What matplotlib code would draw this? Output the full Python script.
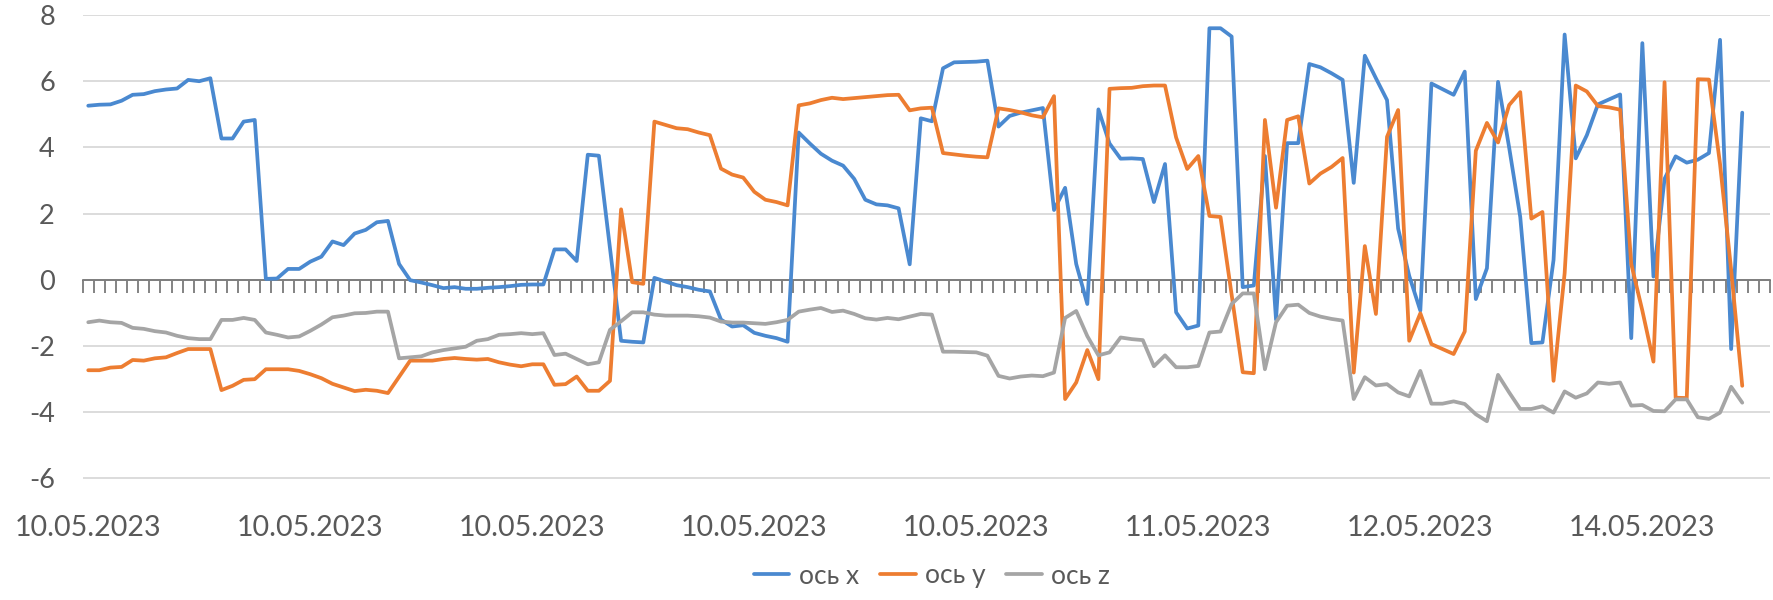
import numpy as np
import matplotlib
matplotlib.use("Agg")
import matplotlib.pyplot as plt
from matplotlib.ticker import FixedLocator, FuncFormatter
import matplotlib.transforms as mtransforms

plt.rcParams['font.family'] = ['Lato', 'DejaVu Sans']
plt.rcParams['axes.unicode_minus'] = False

# ---- data ----
n_categories = 152
label_positions = [0, 20, 40, 60, 80, 100, 120, 140]
date_labels = ["10.05.2023", "10.05.2023", "10.05.2023", "10.05.2023",
               "10.05.2023", "11.05.2023", "12.05.2023", "14.05.2023"]
series_names = ["ось x", "ось y", "ось z"]

axis_x = [5.26, 5.29, 5.30, 5.41, 5.59, 5.61, 5.70, 5.75, 5.78, 6.04,
          6.00, 6.09, 4.27, 4.27, 4.78, 4.83, 0.03, 0.04, 0.33, 0.33,
          0.55, 0.70, 1.16, 1.05, 1.40, 1.51, 1.74, 1.78, 0.48, -0.01,
          -0.08, -0.16, -0.25, -0.22, -0.27, -0.27, -0.24, -0.22, -0.19, -0.15,
          -0.14, -0.14, 0.92, 0.92, 0.57, 3.78, 3.75, 0.96, -1.84, -1.87,
          -1.89, 0.06, -0.05, -0.16, -0.22, -0.30, -0.35, -1.20, -1.41, -1.37,
          -1.60, -1.69, -1.76, -1.87, 4.45, 4.12, 3.81, 3.60, 3.45, 3.05,
          2.42, 2.28, 2.25, 2.16, 0.47, 4.88, 4.79, 6.39, 6.57, 6.58,
          6.59, 6.62, 4.63, 4.95, 5.05, 5.12, 5.19, 2.11, 2.78, 0.48,
          -0.73, 5.15, 4.12, 3.66, 3.67, 3.65, 2.35, 3.50, -0.98, -1.47,
          -1.38, 7.60, 7.60, 7.35, -0.22, -0.17, 3.74, -1.20, 4.13, 4.13,
          6.52, 6.42, 6.24, 6.04, 2.93, 6.77, 6.09, 5.43, 1.55, 0.12,
          -0.93, 5.93, 5.76, 5.59, 6.29, -0.58, 0.35, 5.98, 4.00, 1.90,
          -1.91, -1.89, 0.60, 7.41, 3.67, 4.37, 5.30, 5.45, 5.60, -1.76,
          7.15, 0.10, 3.05, 3.73, 3.54, 3.63, 3.83, 7.25, -2.09, 5.05]

axis_y = [-2.73, -2.73, -2.65, -2.63, -2.42, -2.44, -2.37, -2.34, -2.21, -2.09,
          -2.09, -2.09, -3.33, -3.20, -3.02, -3.00, -2.70, -2.70, -2.70, -2.75,
          -2.85, -2.97, -3.14, -3.25, -3.36, -3.32, -3.35, -3.42, -2.93, -2.44,
          -2.44, -2.44, -2.39, -2.36, -2.39, -2.41, -2.39, -2.49, -2.56, -2.61,
          -2.55, -2.55, -3.17, -3.15, -2.92, -3.35, -3.35, -3.05, 2.13, -0.07,
          -0.12, 4.78, 4.68, 4.58, 4.55, 4.45, 4.37, 3.36, 3.18, 3.09,
          2.66, 2.42, 2.35, 2.25, 5.27, 5.33, 5.43, 5.50, 5.46, 5.49,
          5.52, 5.55, 5.58, 5.59, 5.12, 5.18, 5.20, 3.83, 3.79, 3.75,
          3.72, 3.70, 5.18, 5.13, 5.06, 4.97, 4.91, 5.55, -3.60, -3.10,
          -2.12, -3.00, 5.77, 5.79, 5.80, 5.85, 5.87, 5.87, 4.30, 3.35,
          3.74, 1.93, 1.90, -0.45, -2.79, -2.82, 4.83, 2.18, 4.83, 4.94,
          2.91, 3.21, 3.41, 3.68, -2.80, 1.02, -1.03, 4.32, 5.13, -1.84,
          -1.01, -1.94, -2.09, -2.24, -1.56, 3.90, 4.74, 4.15, 5.28, 5.67,
          1.85, 2.05, -3.05, 0.20, 5.87, 5.69, 5.25, 5.21, 5.14, 0.48,
          -0.93, -2.47, 5.97, -3.56, -3.57, 6.06, 6.05, 3.50, 0.30, -3.20]

axis_z = [-1.28, -1.23, -1.28, -1.30, -1.45, -1.48, -1.55, -1.59, -1.69, -1.76,
          -1.79, -1.79, -1.21, -1.21, -1.15, -1.21, -1.59, -1.66, -1.74, -1.71,
          -1.54, -1.35, -1.13, -1.08, -1.01, -1.00, -0.96, -0.96, -2.37, -2.34,
          -2.31, -2.19, -2.12, -2.07, -2.02, -1.84, -1.79, -1.66, -1.64, -1.61,
          -1.64, -1.61, -2.27, -2.23, -2.39, -2.55, -2.49, -1.51, -1.25, -0.98,
          -0.98, -1.05, -1.08, -1.08, -1.08, -1.10, -1.14, -1.26, -1.29, -1.29,
          -1.31, -1.33, -1.28, -1.21, -0.96, -0.90, -0.85, -0.97, -0.93, -1.03,
          -1.16, -1.20, -1.15, -1.19, -1.11, -1.03, -1.05, -2.17, -2.17, -2.18,
          -2.19, -2.29, -2.90, -2.98, -2.92, -2.89, -2.91, -2.80, -1.15, -0.94,
          -1.70, -2.28, -2.19, -1.74, -1.79, -1.82, -2.61, -2.28, -2.64, -2.64,
          -2.60, -1.59, -1.56, -0.73, -0.41, -0.41, -2.70, -1.28, -0.78, -0.75,
          -1.00, -1.11, -1.18, -1.23, -3.60, -2.94, -3.19, -3.15, -3.40, -3.52,
          -2.75, -3.74, -3.74, -3.67, -3.75, -4.06, -4.27, -2.87, -3.40, -3.90,
          -3.90, -3.82, -4.01, -3.37, -3.56, -3.43, -3.10, -3.14, -3.10, -3.80,
          -3.78, -3.96, -3.97, -3.61, -3.61, -4.15, -4.20, -4.01, -3.23, -3.71]

colors = ["#4a89d0", "#ed7d31", "#a5a5a5"]
text_color = "#595959"

# ---- figure ----
W, H = 1773, 600
fig = plt.figure(figsize=(W / 100, H / 100), dpi=100)
left_px, right_px, top_px, bottom_px = 82.7, 1770.0, 15.0, 478.5
ax = fig.add_axes([left_px / W, 1 - bottom_px / H,
                   (right_px - left_px) / W, (bottom_px - top_px) / H])

for vals, c, name in zip([axis_x, axis_y, axis_z], colors, series_names):
    ax.plot(np.arange(len(vals)), vals, color=c, lw=2.7, label=name,
            solid_joinstyle='round', solid_capstyle='round', zorder=3)

ax.set_xlim(-0.5, n_categories - 0.5)
ax.set_ylim(-6, 8)

# y axis
ax.yaxis.set_major_locator(FixedLocator(np.arange(-6, 9, 2)))
ax.yaxis.set_major_formatter(FuncFormatter(lambda v, p: "%d" % v))
ax.tick_params(axis='y', length=0, pad=20, labelsize=19.5, labelcolor=text_color)
ax.yaxis.grid(True, color="#d9d9d9", lw=1.3, zorder=0)

for s in ['left', 'right', 'top']:
    ax.spines[s].set_visible(False)
ax.spines['bottom'].set_position(('data', 0))
ax.spines['bottom'].set_color("#6e6e6e")
ax.spines['bottom'].set_linewidth(1.2)
ax.spines['bottom'].set_zorder(2)

# category boundary tick marks on the zero axis
ax.xaxis.set_major_locator(FixedLocator(np.arange(n_categories + 1) - 0.5))
ax.xaxis.set_major_formatter(FuncFormatter(lambda v, p: ""))
ax.tick_params(axis='x', direction='out', length=9, width=1.2, color="#6e6e6e")

# date labels at the bottom of the plot area
trans = mtransforms.blended_transform_factory(ax.transData, fig.transFigure)
for pos, lab in zip(label_positions, date_labels):
    ax.text(pos, 1 - 528 / H, lab, transform=trans, ha='center', va='center',
            fontsize=20.5, color=text_color)

fig.legend(loc='center', bbox_to_anchor=(932 / W, 1 - 576 / H), ncol=3,
           frameon=False, fontsize=19, handlelength=1.35, handletextpad=0.35,
           columnspacing=0.8, labelcolor=text_color)

fig.savefig("out.png", dpi=100)
